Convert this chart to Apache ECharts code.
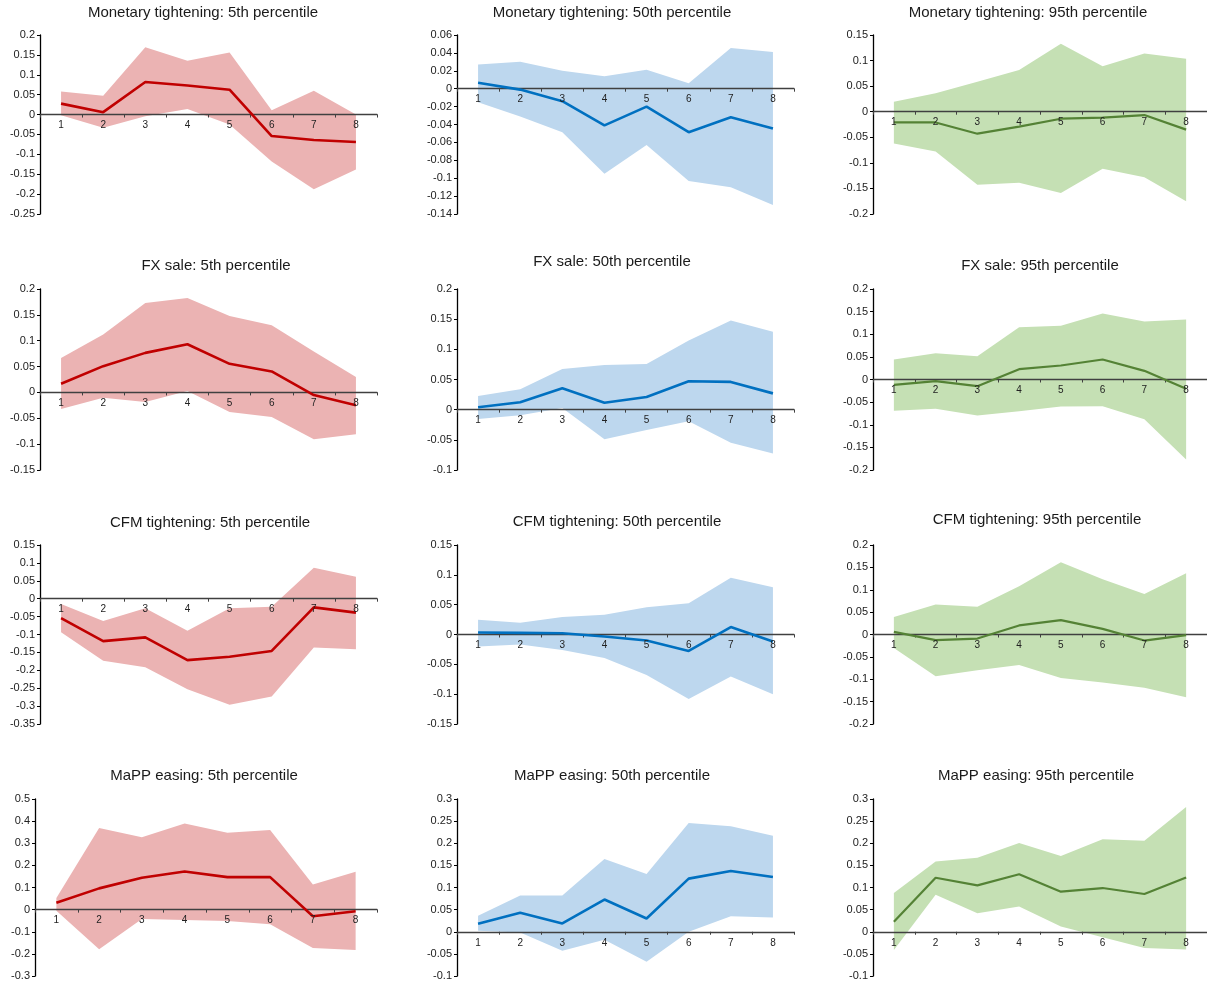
<!DOCTYPE html>
<html>
<head>
<meta charset="utf-8">
<script src="https://cdn.jsdelivr.net/npm/echarts@6/dist/echarts.min.js"></script>
<style>
html,body{margin:0;padding:0;background:#fff;}
#chart{width:1207px;height:987px;}
</style>
</head>
<body>
<div id="chart"></div>
<script>
// ---------- data ----------
const categories = ['1','2','3','4','5','6','7','8'];

const titles = [
  'Monetary tightening: 5th percentile','Monetary tightening: 50th percentile','Monetary tightening: 95th percentile',
  'FX sale: 5th percentile','FX sale: 50th percentile','FX sale: 95th percentile',
  'CFM tightening: 5th percentile','CFM tightening: 50th percentile','CFM tightening: 95th percentile',
  'MaPP easing: 5th percentile','MaPP easing: 50th percentile','MaPP easing: 95th percentile'
];

// y-axis ticks: min, max, interval
const yMin      = [-0.25, -0.14, -0.2,  -0.15, -0.1, -0.2,  -0.35, -0.15, -0.2,  -0.3, -0.1, -0.1];
const yMax      = [ 0.2,   0.06,  0.15,  0.2,   0.2,  0.2,   0.15,  0.15,  0.2,   0.5,  0.3,  0.3];
const yInterval = [ 0.05,  0.02,  0.05,  0.05,  0.05, 0.05,  0.05,  0.05,  0.05,  0.1,  0.05, 0.05];

// Monetary tightening
const mt5_mid  = [0.0275, 0.006, 0.082, 0.073, 0.0625, -0.054, -0.064, -0.069];
const mt5_hi   = [0.058, 0.0475, 0.169, 0.135, 0.156, 0.011, 0.060, 0.0];
const mt5_lo   = [-0.002, -0.033, -0.004, 0.014, -0.025, -0.118, -0.188, -0.138];
const mt50_mid = [0.0067, -0.001, -0.014, -0.041, -0.020, -0.0486, -0.032, -0.0445];
const mt50_hi  = [0.027, 0.030, 0.020, 0.0138, 0.0213, 0.006, 0.0456, 0.041];
const mt50_lo  = [-0.015, -0.031, -0.0486, -0.095, -0.063, -0.103, -0.110, -0.130];
const mt95_mid = [-0.021, -0.021, -0.043, -0.029, -0.0137, -0.0117, -0.0065, -0.035];
const mt95_hi  = [0.0196, 0.036, 0.0587, 0.0815, 0.133, 0.0887, 0.114, 0.1037];
const mt95_lo  = [-0.062, -0.0776, -0.143, -0.139, -0.159, -0.1115, -0.128, -0.175];

// FX sale
const fx5_mid  = [0.0167, 0.0508, 0.0765, 0.0932, 0.0553, 0.0405, -0.005, -0.025];
const fx5_hi   = [0.0668, 0.112, 0.173, 0.1825, 0.148, 0.130, 0.079, 0.0296];
const fx5_lo   = [-0.032, -0.0103, -0.0186, 0.003, -0.038, -0.0476, -0.0906, -0.081];
const fx50_mid = [0.0039, 0.0122, 0.0354, 0.0116, 0.021, 0.047, 0.046, 0.027];
const fx50_hi  = [0.0227, 0.0337, 0.0675, 0.074, 0.0758, 0.1145, 0.1477, 0.129];
const fx50_lo  = [-0.0155, -0.0094, 0.0028, -0.049, -0.0337, -0.019, -0.0548, -0.0725];
const fx95_mid = [-0.0118, -0.0037, -0.0147, 0.0228, 0.031, 0.0442, 0.0191, -0.0206];
const fx95_hi  = [0.0442, 0.058, 0.0515, 0.1156, 0.119, 0.1458, 0.128, 0.1325];
const fx95_lo  = [-0.069, -0.0648, -0.0795, -0.070, -0.0597, -0.059, -0.088, -0.1767];

// CFM tightening
const cfm5_mid  = [-0.054, -0.1185, -0.108, -0.1716, -0.162, -0.146, -0.0243, -0.039];
const cfm5_hi   = [-0.015, -0.0625, -0.027, -0.0896, -0.027, -0.0224, 0.0868, 0.0616];
const cfm5_lo   = [-0.094, -0.173, -0.1916, -0.253, -0.296, -0.273, -0.136, -0.141];
const cfm50_mid = [0.0034, 0.0028, 0.0022, -0.0034, -0.0101, -0.0275, 0.0124, -0.0118];
const cfm50_hi  = [0.0247, 0.0197, 0.0292, 0.0331, 0.0455, 0.0522, 0.095, 0.0792];
const cfm50_lo  = [-0.0202, -0.0169, -0.0258, -0.0393, -0.068, -0.108, -0.0702, -0.100];
const cfm95_mid = [0.006, -0.0127, -0.009, 0.0202, 0.0321, 0.0127, -0.0135, -0.0015];
const cfm95_hi  = [0.0389, 0.0673, 0.062, 0.1076, 0.1614, 0.1233, 0.0904, 0.1368];
const cfm95_lo  = [-0.0299, -0.0934, -0.080, -0.068, -0.0972, -0.107, -0.119, -0.1405];

// MaPP easing
const mapp5_mid  = [0.0315, 0.096, 0.144, 0.1727, 0.147, 0.147, -0.030, -0.0075];
const mapp5_hi   = [0.052, 0.369, 0.327, 0.389, 0.347, 0.360, 0.114, 0.171];
const mapp5_lo   = [-0.005, -0.179, -0.042, -0.0465, -0.051, -0.066, -0.174, -0.183];
const mapp50_mid = [0.018, 0.0428, 0.0188, 0.0728, 0.030, 0.120, 0.1374, 0.1239];
const mapp50_hi  = [0.036, 0.0818, 0.0818, 0.1644, 0.1306, 0.2455, 0.2387, 0.217];
const mapp50_lo  = [0.002, -0.0015, -0.0428, -0.018, -0.068, 0.0, 0.0353, 0.0323];
const mapp95_mid = [0.0225, 0.122, 0.1048, 0.130, 0.0906, 0.0988, 0.0853, 0.1228];
const mapp95_hi  = [0.0876, 0.1587, 0.167, 0.2006, 0.1714, 0.2088, 0.2058, 0.282];
const mapp95_lo  = [-0.041, 0.0838, 0.042, 0.0569, 0.012, -0.0127, -0.0367, -0.040];

const panels = [
  [mt5_lo, mt5_mid, mt5_hi], [mt50_lo, mt50_mid, mt50_hi], [mt95_lo, mt95_mid, mt95_hi],
  [fx5_lo, fx5_mid, fx5_hi], [fx50_lo, fx50_mid, fx50_hi], [fx95_lo, fx95_mid, fx95_hi],
  [cfm5_lo, cfm5_mid, cfm5_hi], [cfm50_lo, cfm50_mid, cfm50_hi], [cfm95_lo, cfm95_mid, cfm95_hi],
  [mapp5_lo, mapp5_mid, mapp5_hi], [mapp50_lo, mapp50_mid, mapp50_hi], [mapp95_lo, mapp95_mid, mapp95_hi]
];

// ---------- layout & style ----------
const lineColors = ['#C00000', '#0070C0', '#548235'];
const bandColors = ['#EBB3B3', '#BDD7EE', '#C5E0B4'];
const lineWidths = [2.6, 2.6, 2.2];

const colLeft = [40, 457, 873];
const colWidth = 337;
const rowTop = [35, 289, 545, 799];
const rowHeight = [179, 181, 179, 177];
const titlePos = [
  [203, 14], [612, 14], [1028, 14],
  [216, 267], [612, 263], [1040, 267],
  [210, 524], [617, 523], [1037, 521],
  [204, 777], [612, 777], [1036, 777]
];

const FONT = '"Liberation Sans", Arial, sans-serif';

const option = {
  backgroundColor: '#ffffff',
  animation: false,
  title: [], grid: [], xAxis: [], yAxis: [], series: []
};

// category labels drawn at the zero line (through the axes' own coordinate system)
function zeroLabelRenderer(params, api) {
  const idx = api.value(0);
  const pt = api.coord([idx, 0]);
  return {
    type: 'text',
    x: pt[0], y: pt[1] + 6,
    z2: 100,
    style: {
      text: categories[idx],
      fill: '#222',
      font: '10px ' + FONT,
      align: 'center',
      verticalAlign: 'top'
    }
  };
}

panels.forEach(function (p, i) {
  const r = Math.floor(i / 3), c = i % 3;
  const lo = p[0], mid = p[1], hi = p[2];
  let left = colLeft[c], width = colWidth;
  if (i === 9) { left = 35; width = 342; }
  option.title.push({
    text: titles[i],
    left: titlePos[i][0],
    top: titlePos[i][1] - 9,
    textAlign: 'center',
    padding: 0,
    textStyle: { fontFamily: FONT, fontSize: 15, fontWeight: 'normal', color: '#1a1a1a' }
  });
  option.grid.push({ left: left, top: rowTop[r], width: width, height: rowHeight[r], containLabel: false });
  option.xAxis.push({
    type: 'category', gridIndex: i, data: categories, boundaryGap: true, z: 5,
    axisLine: { onZero: true, lineStyle: { color: '#404040', width: 1.3 } },
    axisTick: { show: true, inside: false, length: 3, lineStyle: { color: '#404040' } },
    axisLabel: { show: false },
    splitLine: { show: false }
  });
  option.yAxis.push({
    type: 'value', gridIndex: i, min: yMin[i], max: yMax[i], interval: yInterval[i], z: 5,
    axisLine: { show: true, onZero: false, lineStyle: { color: '#000', width: 1.3 } },
    axisTick: { show: true, inside: false, length: 3, lineStyle: { color: '#000' } },
    axisLabel: { margin: 5, fontFamily: FONT, fontSize: 11, color: '#222' },
    splitLine: { show: false }
  });
  const stackName = 'band' + i;
  option.series.push({
    type: 'line', xAxisIndex: i, yAxisIndex: i, data: lo, stack: stackName, stackStrategy: 'all',
    symbol: 'none', lineStyle: { opacity: 0 }, areaStyle: { opacity: 0 }, silent: true, z: 1
  });
  option.series.push({
    type: 'line', xAxisIndex: i, yAxisIndex: i,
    data: hi.map(function (v, k) { return v - lo[k]; }),
    stack: stackName, stackStrategy: 'all',
    symbol: 'none', lineStyle: { opacity: 0 },
    areaStyle: { color: bandColors[c], opacity: 1 }, silent: true, z: 1
  });
  option.series.push({
    type: 'line', xAxisIndex: i, yAxisIndex: i, data: mid,
    symbol: 'none', lineStyle: { color: lineColors[c], width: lineWidths[c] }, z: 10
  });
  option.series.push({
    type: 'custom', xAxisIndex: i, yAxisIndex: i, silent: true, z: 20, clip: false,
    data: categories.map(function (cat, k) { return [k, 0]; }),
    renderItem: zeroLabelRenderer
  });
});

const chart = echarts.init(document.getElementById('chart'), null, { renderer: 'canvas' });
chart.setOption(option);
</script>
</body>
</html>
